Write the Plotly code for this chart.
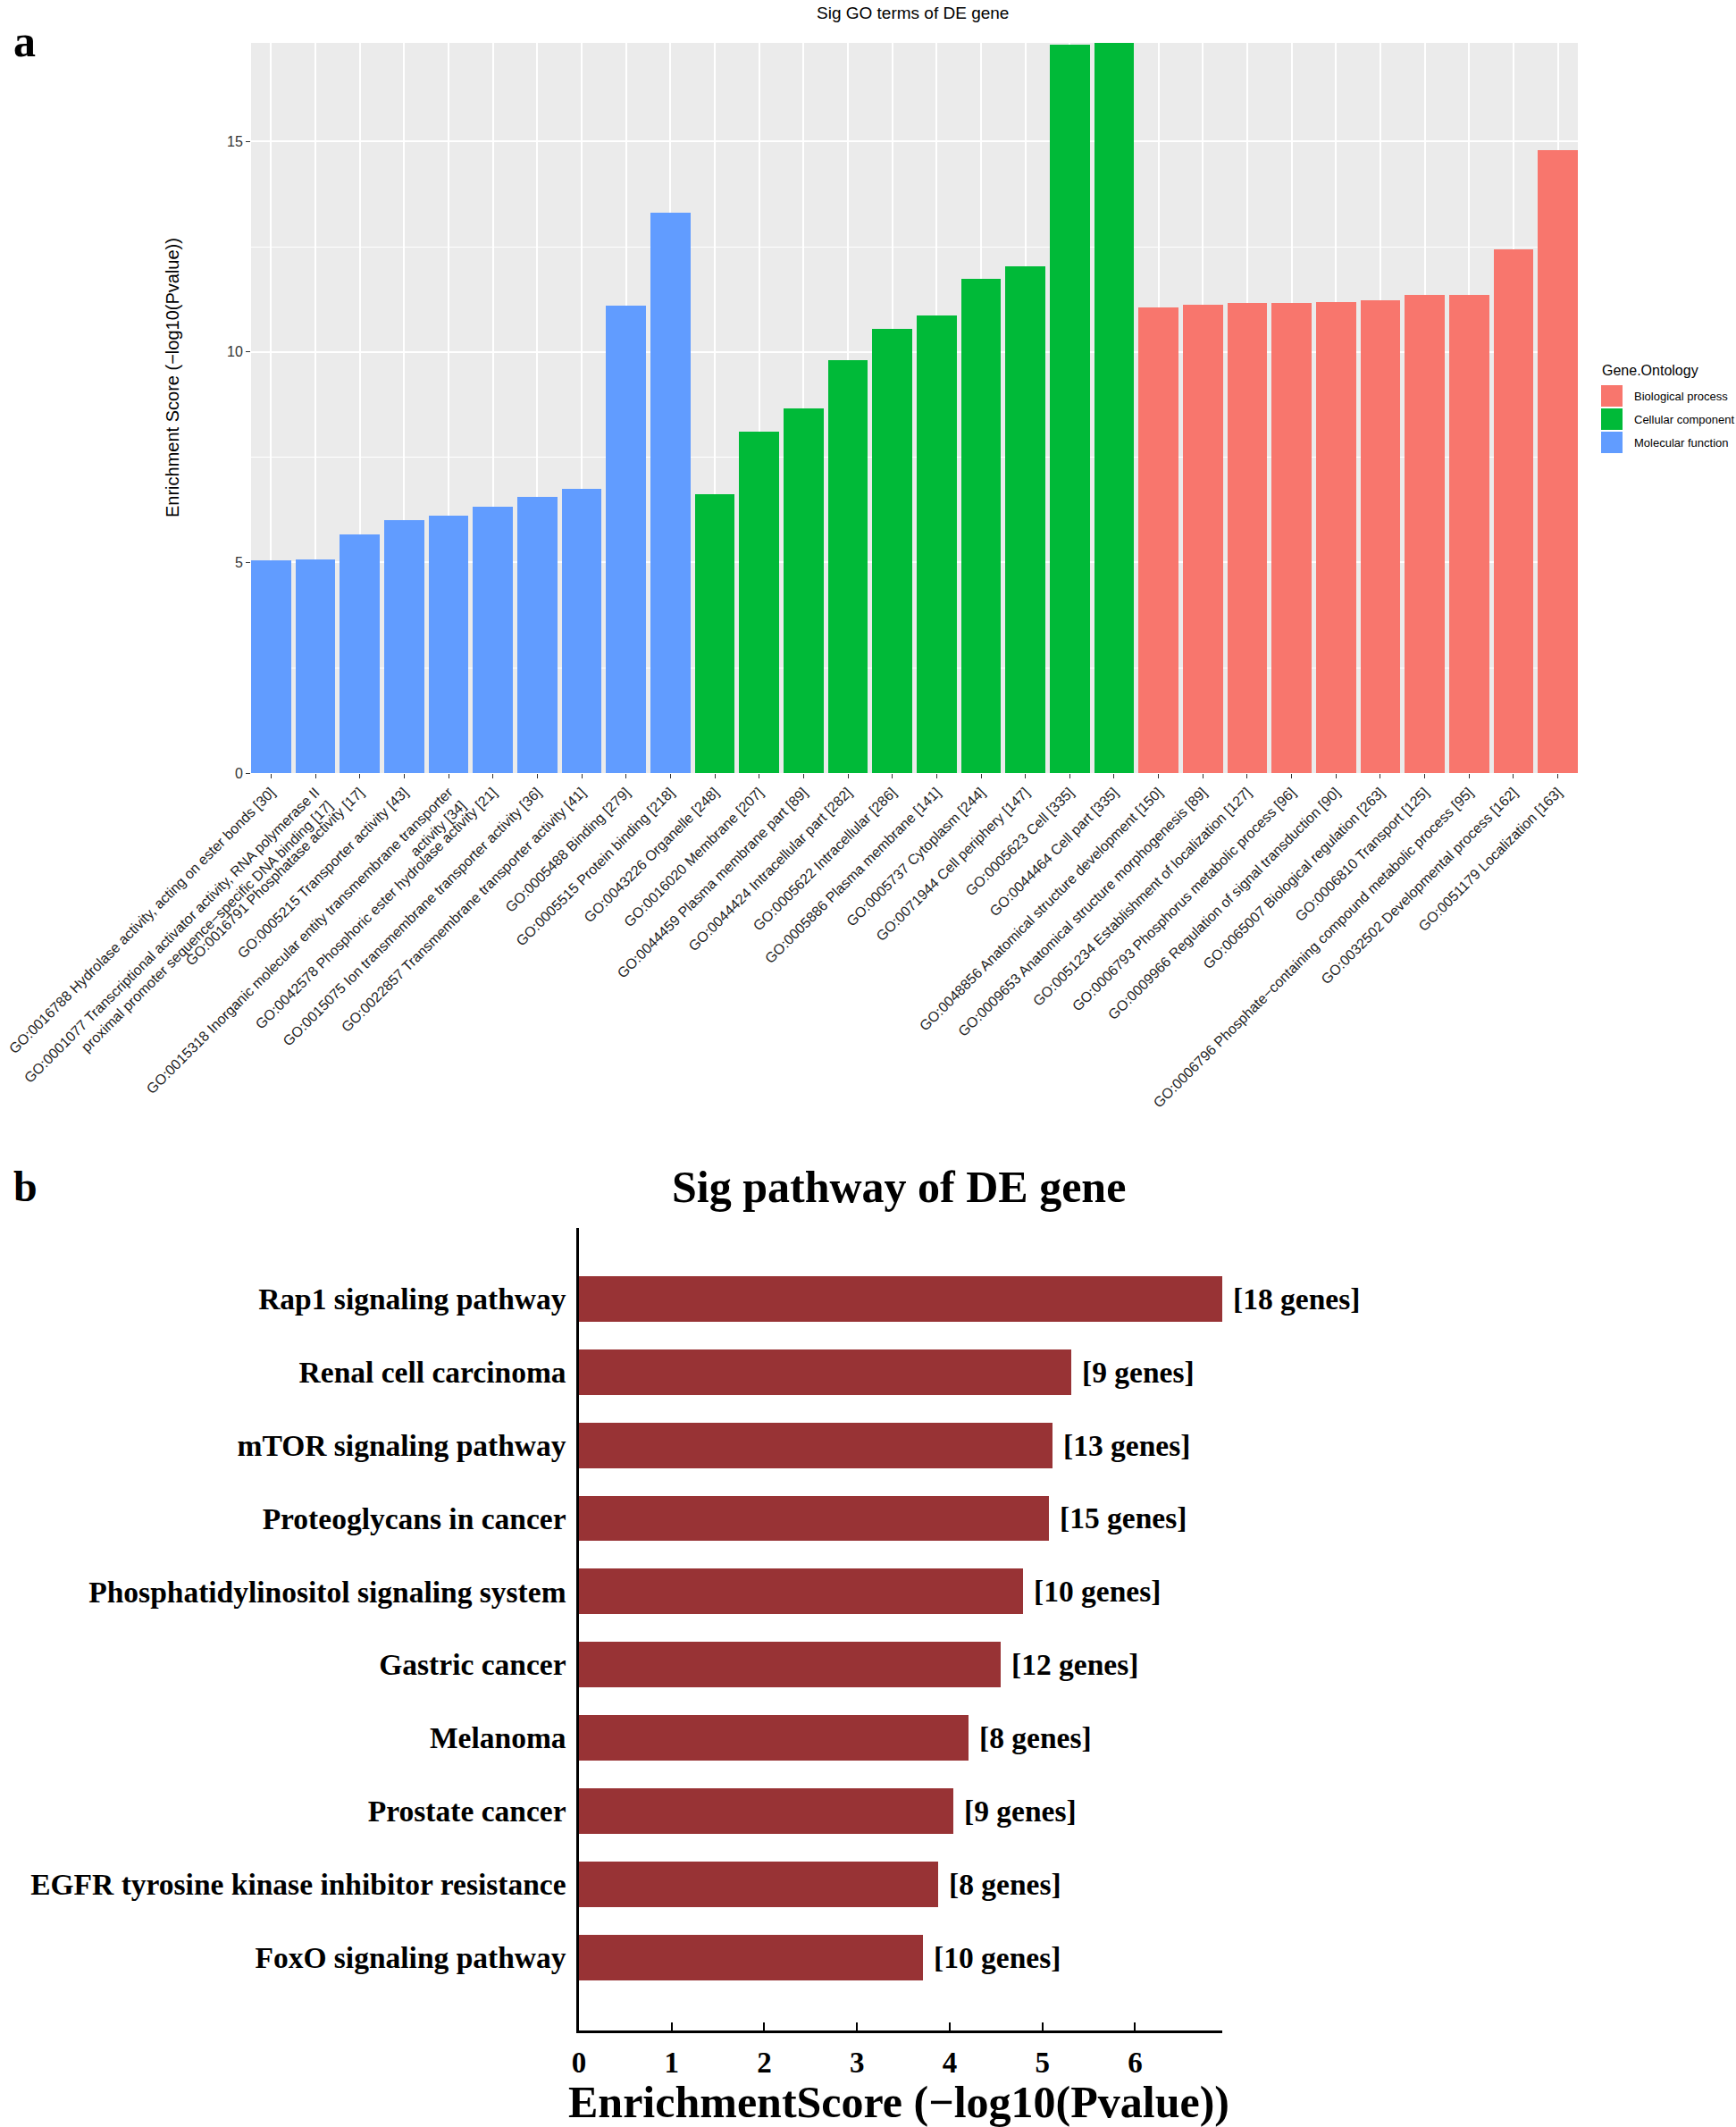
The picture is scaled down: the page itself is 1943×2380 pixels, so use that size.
import plotly.graph_objects as go

# ---------------- Panel a data ----------------
go_ids = ["GO:0016788", "GO:0001077", "GO:0016791", "GO:0005215", "GO:0015318",
          "GO:0042578", "GO:0015075", "GO:0022857", "GO:0005488", "GO:0005515",
          "GO:0043226", "GO:0016020", "GO:0044459", "GO:0044424", "GO:0005622",
          "GO:0005886", "GO:0005737", "GO:0071944", "GO:0005623", "GO:0044464",
          "GO:0048856", "GO:0009653", "GO:0051234", "GO:0006793", "GO:0009966",
          "GO:0065007", "GO:0006810", "GO:0006796", "GO:0032502", "GO:0051179"]
go_terms = ["Hydrolase activity, acting on ester bonds",
            "Transcriptional activator activity, RNA polymerase II<br>proximal promoter sequence\u2212specific DNA binding",
            "Phosphatase activity", "Transporter activity",
            "Inorganic molecular entity transmembrane transporter<br>activity",
            "Phosphoric ester hydrolase activity", "Ion transmembrane transporter activity",
            "Transmembrane transporter activity", "Binding", "Protein binding",
            "Organelle", "Membrane", "Plasma membrane part", "Intracellular part",
            "Intracellular", "Plasma membrane", "Cytoplasm", "Cell periphery", "Cell",
            "Cell part", "Anatomical structure development",
            "Anatomical structure morphogenesis", "Establishment of localization",
            "Phosphorus metabolic process", "Regulation of signal transduction",
            "Biological regulation", "Transport",
            "Phosphate\u2212containing compound metabolic process",
            "Developmental process", "Localization"]
go_genes = [30, 17, 17, 43, 34, 21, 36, 41, 279, 218,
            248, 207, 89, 282, 286, 141, 244, 147, 335, 335,
            150, 89, 127, 96, 90, 263, 125, 95, 162, 163]
go_scores = [5.05, 5.08, 5.66, 6.01, 6.11, 6.33, 6.56, 6.75, 11.09, 13.31,
             6.62, 8.10, 8.65, 9.81, 10.55, 10.87, 11.74, 12.03, 17.29, 17.33,
             11.06, 11.13, 11.16, 11.17, 11.19, 11.22, 11.35, 11.36, 12.44, 14.79]
go_ontology = ["Molecular function"] * 10 + ["Cellular component"] * 10 + ["Biological process"] * 10
ontology_levels = ["Biological process", "Cellular component", "Molecular function"]
ontology_colors = {"Biological process": "#F8766D",
                   "Cellular component": "#00BA38",
                   "Molecular function": "#619CFF"}

# ---------------- Panel b data ----------------
kegg_terms = ["Rap1 signaling pathway", "Renal cell carcinoma", "mTOR signaling pathway",
              "Proteoglycans in cancer", "Phosphatidylinositol signaling system",
              "Gastric cancer", "Melanoma", "Prostate cancer",
              "EGFR tyrosine kinase inhibitor resistance", "FoxO signaling pathway"]
kegg_scores = [6.94, 5.31, 5.11, 5.07, 4.79, 4.55, 4.20, 4.04, 3.87, 3.71]
kegg_genes = [18, 9, 13, 15, 10, 12, 8, 9, 8, 10]
kegg_ticks = [0, 1, 2, 3, 4, 5, 6]

W, H = 1943, 2380
def px(x): return x / W
def py(y): return 1 - y / H

SANS = "Liberation Sans, Arial, Helvetica, sans-serif"
SERIF = "Liberation Serif, Times New Roman, serif"

go_labels = [f"{i} {t} [{n}]" for i, t, n in zip(go_ids, go_terms, go_genes)]

fig = go.Figure()

for ont in ontology_levels:
    idx = [k for k, o in enumerate(go_ontology) if o == ont]
    fig.add_trace(go.Bar(
        x=[go_ids[k] for k in idx], y=[go_scores[k] for k in idx],
        marker=dict(color=ontology_colors[ont], line=dict(width=0)),
        width=0.9, name=ont, showlegend=False, xaxis="x", yaxis="y"))

fig.add_trace(go.Bar(
    x=kegg_scores, y=kegg_terms, orientation="h", width=0.62,
    marker=dict(color="#983335", line=dict(width=0)),
    showlegend=False, xaxis="x2", yaxis="y2"))

annotations = []
for s, t, n in zip(kegg_scores, kegg_terms, kegg_genes):
    annotations.append(dict(x=s, y=t, xref="x2", yref="y2", text=f"[{n} genes]",
                            showarrow=False, xanchor="left", yanchor="middle", xshift=10,
                            font=dict(family=SERIF, size=33.5, color="black", weight="bold")))

# titles / labels
annotations += [
    dict(x=px(1022), y=py(15), xref="paper", yref="paper", text="Sig GO terms of DE gene",
         showarrow=False, xanchor="center", yanchor="middle", font=dict(family=SANS, size=19, color="black")),
    dict(x=px(193), y=py(423), xref="paper", yref="paper", text="Enrichment Score (\u2212log10(Pvalue))",
         textangle=-90, showarrow=False, xanchor="center", yanchor="middle",
         font=dict(family=SANS, size=20, color="black")),
    dict(x=px(27), y=py(46), xref="paper", yref="paper", text="a", showarrow=False,
         xanchor="center", yanchor="middle", font=dict(family=SERIF, size=50, color="black", weight="bold")),
    dict(x=px(28), y=py(1327), xref="paper", yref="paper", text="b", showarrow=False,
         xanchor="center", yanchor="middle", font=dict(family=SERIF, size=48, color="black", weight="bold")),
    dict(x=px(1006), y=py(1328), xref="paper", yref="paper", text="Sig pathway of DE gene", showarrow=False,
         xanchor="center", yanchor="middle", font=dict(family=SERIF, size=50, color="black", weight="bold")),
    dict(x=px(1006), y=py(2352), xref="paper", yref="paper", text="EnrichmentScore (\u2212log10(Pvalue))",
         showarrow=False, xanchor="center", yanchor="middle",
         font=dict(family=SERIF, size=50, color="black", weight="bold")),
    dict(x=px(1791), y=py(414), xref="paper", yref="paper", text="Gene.Ontology", showarrow=False,
         xanchor="left", yanchor="middle", font=dict(family=SANS, size=16, color="black")),
]

shapes = [dict(type="rect", xref="x domain", yref="y domain", x0=0, x1=1, y0=0, y1=1,
               fillcolor="#EBEBEB", line=dict(width=0), layer="below")]

key_tops = [431, 457, 483]
for ont, top in zip(ontology_levels, key_tops):
    shapes.append(dict(type="rect", xref="paper", yref="paper",
                       x0=px(1792), x1=px(1816), y0=py(top + 24), y1=py(top),
                       fillcolor=ontology_colors[ont], line=dict(width=0)))
    annotations.append(dict(x=px(1827), y=py(top + 12.5), xref="paper", yref="paper", text=ont,
                            showarrow=False, xanchor="left", yanchor="middle",
                            font=dict(family=SANS, size=13, color="black")))

fig.update_layout(
    width=W, height=H, margin=dict(l=0, r=0, t=0, b=0, autoexpand=False),
    paper_bgcolor="white", plot_bgcolor="rgba(0,0,0,0)",
    barmode="overlay", bargap=0,
    annotations=annotations, shapes=shapes,
    xaxis=dict(domain=[px(281), px(1766)], anchor="y", type="category", automargin=False,
               categoryorder="array", categoryarray=go_ids,
               tickmode="array", tickvals=go_ids, ticktext=go_labels,
               tickangle=-45, range=[-0.45, len(go_ids) - 0.55],
               showgrid=True, gridcolor="white", gridwidth=2,
               ticks="outside", ticklen=5, tickwidth=1, tickcolor="#333333",
               showline=False, zeroline=False,
               tickfont=dict(family=SANS, size=16, color="#222222")),
    yaxis=dict(domain=[py(865), py(48)], anchor="x", range=[0, 17.34], automargin=False,
               tickmode="array", tickvals=[0, 5, 10, 15],
               showgrid=True, gridcolor="white", gridwidth=2,
               minor=dict(tickmode="array", tickvals=[2.5, 7.5, 12.5], showgrid=True,
                          gridcolor="white", gridwidth=1, ticks=""),
               ticks="outside", ticklen=5, tickwidth=1, tickcolor="#333333",
               showline=False, zeroline=False,
               tickfont=dict(family=SANS, size=16, color="#333333")),
    xaxis2=dict(domain=[px(648), px(1368)], anchor="y2", range=[0, 6.94], automargin=False,
                tickmode="array", tickvals=kegg_ticks,
                showgrid=False, zeroline=False,
                showline=True, linecolor="black", linewidth=2.5,
                ticks="inside", ticklen=9, tickwidth=2, tickcolor="black",
                ticklabelstandoff=5,
                tickfont=dict(family=SERIF, size=33, color="black", weight="bold")),
    yaxis2=dict(domain=[py(2272), py(1374)], anchor="x2", type="category", automargin=False,
                categoryorder="array", categoryarray=kegg_terms,
                range=[len(kegg_terms), -0.97],
                showgrid=False, zeroline=False,
                showline=True, linecolor="black", linewidth=2.5,
                ticks="", ticklabelstandoff=5,
                tickfont=dict(family=SERIF, size=33.5, color="black", weight="bold")),
)

fig.write_html("out.html", config={"displayModeBar": False},
               post_script="document.body.style.margin='0';")
